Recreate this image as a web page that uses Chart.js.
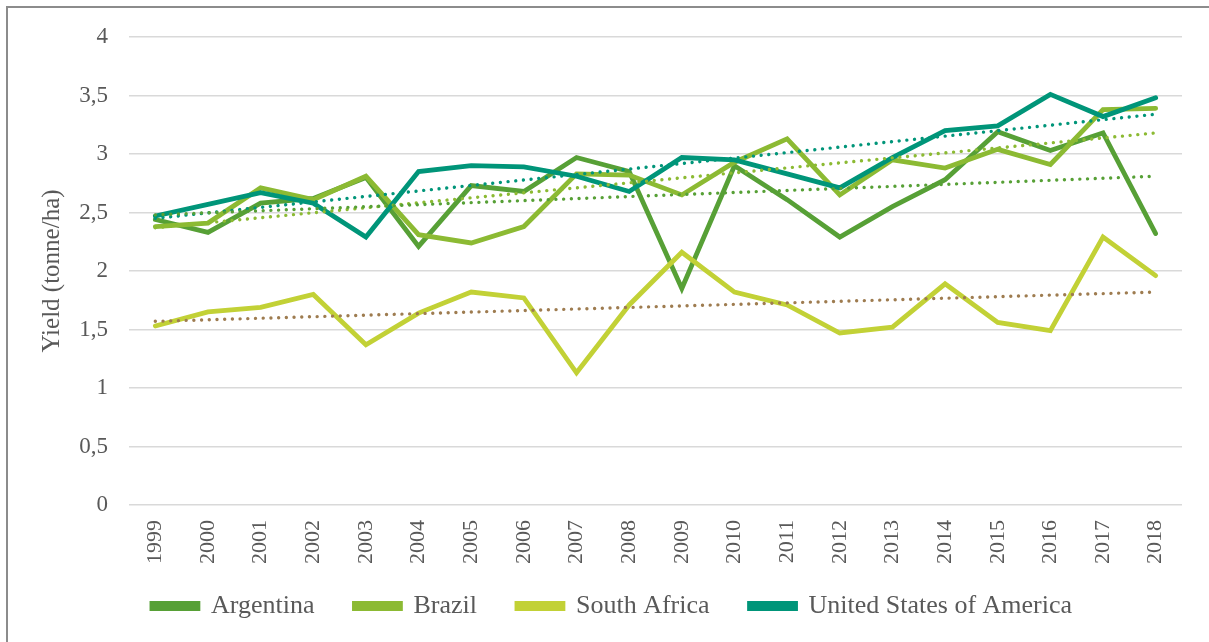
<!DOCTYPE html>
<html>
<head>
<meta charset="utf-8">
<script src="https://cdn.jsdelivr.net/npm/chart.js@4.4.1/dist/chart.umd.min.js"></script>
<style>
    html, body { margin: 0; padding: 0; background: #fff; }
    #frame {
        position: absolute; left: 6px; top: 6px; width: 1203px; height: 636px;
        border-left: 2px solid #8c8c8c; border-top: 2px solid #8c8c8c;
    }
    #wrap { position: absolute; left: 0; top: 0; width: 1209px; height: 642px; }
</style>
</head>
<body>
<div id="frame"></div>
<div id="wrap"><canvas id="yield-graph" width="1209" height="642"></canvas></div>
<script>
const years = ['1999', '2000', '2001', '2002', '2003', '2004', '2005', '2006', '2007', '2008',
               '2009', '2010', '2011', '2012', '2013', '2014', '2015', '2016', '2017', '2018'];

const argentina = [2.44, 2.33, 2.58, 2.62, 2.80, 2.21, 2.73, 2.68, 2.97, 2.85,
                   1.85, 2.90, 2.61, 2.29, 2.55, 2.78, 3.19, 3.03, 3.18, 2.32];
const brazil = [2.38, 2.41, 2.71, 2.61, 2.81, 2.31, 2.24, 2.38, 2.83, 2.82,
                2.65, 2.93, 3.13, 2.65, 2.95, 2.88, 3.04, 2.91, 3.38, 3.39];
const southAfrica = [1.53, 1.65, 1.69, 1.80, 1.37, 1.64, 1.82, 1.77, 1.13, 1.71,
                     2.16, 1.82, 1.71, 1.47, 1.52, 1.89, 1.56, 1.49, 2.29, 1.96];
const usa = [2.47, 2.57, 2.67, 2.58, 2.29, 2.85, 2.90, 2.89, 2.81, 2.68,
             2.97, 2.95, 2.83, 2.71, 2.97, 3.20, 3.24, 3.51, 3.32, 3.48];

// linear trendlines: [value at 1999, value at 2018]
const argentinaTrend = [2.48, 2.81];
const brazilTrend = [2.37, 3.18];
const southAfricaTrend = [1.57, 1.82];
const usaTrend = [2.45, 3.34];

const yTicks = [0, 0.5, 1, 1.5, 2, 2.5, 3, 3.5, 4];

const textColor = '#595959';
const serif = '"Liberation Serif", "Times New Roman", serif';

function endsOnly(trend) {
    // only the two end points, the line spans the gap in between
    return years.map((y, i) => i === 0 ? trend[0] : (i === years.length - 1 ? trend[1] : null));
}

function series(label, data, color, order) {
    return {
        label: label,
        data: data,
        borderColor: color,
        backgroundColor: color,
        borderWidth: 4.8,
        borderCapStyle: 'round',
        pointRadius: 0,
        pointHoverRadius: 0,
        tension: 0,
        fill: false,
        order: order
    };
}

function trendline(label, trend, color) {
    return {
        label: label,
        data: endsOnly(trend),
        borderColor: color,
        backgroundColor: color,
        borderWidth: 3.4,
        borderDash: [0.01, 7.7],
        borderCapStyle: 'round',
        pointRadius: 0,
        pointHoverRadius: 0,
        spanGaps: true,
        fill: false,
        order: 0
    };
}

// legend sits a bit higher than its box, closer to the year labels
const liftLegend = {
    id: 'liftLegend',
    afterLayout(chart) {
        chart.legend.top -= 13;
        chart.legend.bottom -= 13;
    }
};

function YieldChart() {
    const ctx = document.getElementById('yield-graph');
    const myChart = new Chart(ctx, {
        type: 'line',
        data: {
            labels: years,
            datasets: [
                series('Argentina', argentina, '#57a036', 4),
                series('Brazil', brazil, '#8cba33', 3),
                series('South Africa', southAfrica, '#c2d136', 2),
                series('United States of America', usa, '#009579', 1),
                trendline('Argentina trend', argentinaTrend, '#57a036'),
                trendline('Brazil trend', brazilTrend, '#8cba33'),
                trendline('South Africa trend', southAfricaTrend, '#9e7c50'),
                trendline('United States of America trend', usaTrend, '#009579')
            ]
        },
        plugins: [liftLegend],
        options: {
            responsive: false,
            animation: false,
            layout: {
                padding: { left: 42, right: 27, top: 37, bottom: 0 }
            },
            plugins: {
                tooltip: { enabled: false },
                legend: {
                    position: 'bottom',
                    labels: {
                        filter: (item) => item.datasetIndex < 4,
                        sort: (a, b) => a.datasetIndex - b.datasetIndex,
                        boxWidth: 46,
                        boxHeight: 5,
                        padding: 40,
                        color: textColor,
                        font: { family: serif, size: 26 }
                    }
                }
            },
            scales: {
                x: {
                    offset: true,
                    grid: { display: false, drawTicks: false },
                    border: { display: false },
                    ticks: {
                        minRotation: 90,
                        maxRotation: 90,
                        padding: 15,
                        color: textColor,
                        font: { family: serif, size: 22 }
                    },
                    afterFit: (scale) => { scale.height = 61; }
                },
                y: {
                    min: 0,
                    max: 4,
                    afterBuildTicks: (scale) => {
                        scale.ticks = yTicks.map(v => ({ value: v }));
                    },
                    grid: { color: '#d9d9d9', lineWidth: 1.5, drawTicks: false },
                    border: { display: false },
                    ticks: {
                        padding: 21,
                        color: textColor,
                        font: { family: serif, size: 23 },
                        callback: (v) => String(v).replace('.', ',')
                    },
                    title: {
                        display: true,
                        text: 'Yield (tonne/ha)',
                        color: textColor,
                        font: { family: serif, size: 25 },
                        padding: { top: -5, bottom: 0 }
                    },
                    afterFit: (scale) => { scale.width = 87; }
                }
            }
        }
    });
}

YieldChart();
</script>
</body>
</html>
